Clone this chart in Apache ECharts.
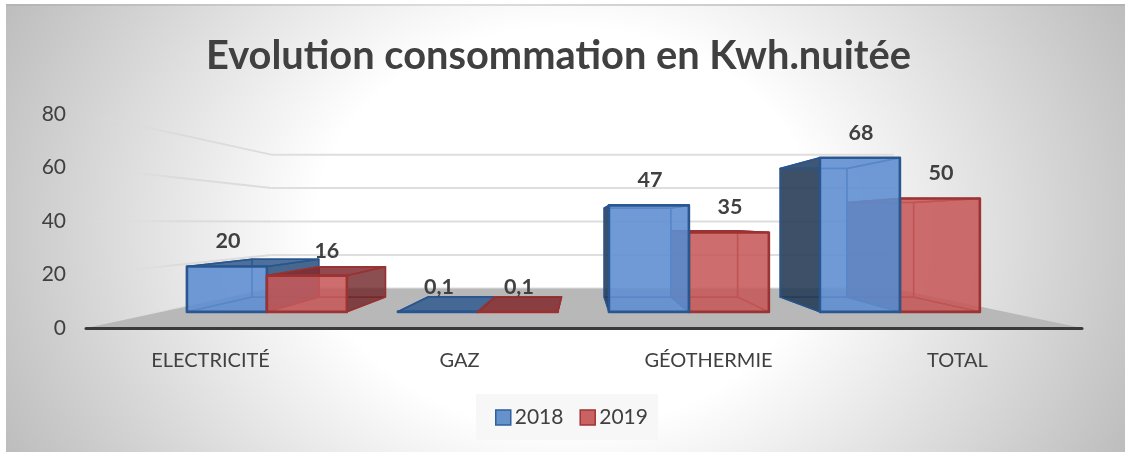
<!DOCTYPE html>
<html><head><meta charset="utf-8">
<style>html,body{margin:0;padding:0;background:#fff}#c{width:1125px;height:452px}</style>
<script src="https://cdn.jsdelivr.net/npm/echarts@6/dist/echarts.min.js"></script>
</head><body><div id="c"></div>
<script>
const categories = ['ELECTRICITÉ', 'GAZ', 'GÉOTHERMIE', 'TOTAL'];
const values2018 = [20, 0.1, 47, 68];
const values2019 = [16, 0.1, 35, 50];
const yTicks = [0, 20, 40, 60, 80];
const seriesNames = ['2018', '2019'];

// camera model of the pseudo-3D plot
const HORIZON_VALUE = 39.5, VANISH_X = 0.496;
const S_FRONT = 0.8474, S_BACK = 0.707, S_WALL = 0.625, BAR_BAND = 0.379;
const TEXT = '#404040', FONT = 'Lato';

const PAL = [
  { stroke:'rgba(40,86,142,.97)', front:'rgba(94,142,208,.88)', outer:'rgba(36,58,84,.88)', sideOuterLow:'rgba(48,84,128,.88)',
    top:'rgba(52,92,142,.86)', inner:'rgba(70,120,190,.12)' },
  { stroke:'rgba(155,50,50,.97)', front:'rgba(198,88,88,.86)', outer:'rgba(110,36,38,.78)', sideOuterLow:'rgba(110,36,38,.78)',
    top:'rgba(128,42,46,.84)', inner:'rgba(190,70,70,.12)' }
];
const fmt = v => String(v).replace('.', ',');

function camera(params, api) {
  const cs = params.coordSys;
  const vx = cs.x + cs.width * VANISH_X;
  const vy = api.coord([0, HORIZON_VALUE])[1];
  return (X, Y, s) => [vx + s * (X - vx), vy + s * (Y - vy)];
}

function renderBar(idx, labelNudge) {
  return function (params, api) {
    const P = camera(params, api), cs = params.coordSys, pal = PAL[idx];
    const cat = api.value(0), v = api.value(1);
    const [cx, yTop] = api.coord([cat, v]);
    const y0 = api.coord([cat, 0])[1];
    const bw = api.size([1, 0])[0] * BAR_BAND;
    const xL = idx === 0 ? cx - bw : cx, xR = xL + bw;
    const vx = cs.x + cs.width * VANISH_X;
    const onLeft = cx < vx;
    const base = ((onLeft ? idx === 1 : idx === 0) ? 100 : 50) + cat * 10;
    const poly = (pts, fill, z, lw) => ({ type:'polygon', z2: base + z, shape:{ points:pts },
      style:{ fill, stroke: pal.stroke, lineWidth: lw, lineJoin:'round' } });
    const fbl = P(xL,y0,S_FRONT), fbr = P(xR,y0,S_FRONT), ftl = P(xL,yTop,S_FRONT), ftr = P(xR,yTop,S_FRONT);
    const bbl = P(xL,y0,S_BACK), bbr = P(xR,y0,S_BACK), btl = P(xL,yTop,S_BACK), btr = P(xR,yTop,S_BACK);
    const seenFromAbove = btl[1] < ftl[1];
    const children = [
      poly([bbl,bbr,fbr,fbl], pal.inner, 0, 1.2),
      poly([bbl,bbr,btr,btl], pal.inner, 1, 1.2),
      poly([bbl,fbl,ftl,btl], onLeft ? pal.inner : pal.outer, 2, 1.5),
      poly([bbr,fbr,ftr,btr], onLeft ? pal.sideOuterLow : pal.inner, 3, 1.5),
      poly([btl,btr,ftr,ftl], seenFromAbove ? pal.top : pal.inner, 4, 1.5),
      poly([fbl,fbr,ftr,ftl], pal.front, 5, 2.6),
      { type:'text', z2: 1000, style:{
          text: fmt(v), x: (fbl[0]+fbr[0])/2 + 1 + (labelNudge[cat]||0), y: ftl[1] - 25,
          fill: TEXT, font: 'bold 21.5px ' + FONT, align:'center', verticalAlign:'middle' } }
    ];
    return { type:'group', children };
  };
}

function renderFloor(params, api) {
  const P = camera(params, api), cs = params.coordSys;
  const y0 = api.coord([0, 0])[1], xa = cs.x, xb = cs.x + cs.width;
  return { type:'polygon', z2:-10, shape:{ points:[ P(xa,y0,1), P(xb,y0,1), P(xb,y0,S_WALL), P(xa,y0,S_WALL) ] },
    style:{ fill:'#b8b8b8' } };
}

function renderGrid(params, api) {
  const P = camera(params, api), cs = params.coordSys;
  const y = api.coord([0, api.value(0)])[1], xa = cs.x, xb = cs.x + cs.width;
  const a = P(xa,y,1), b = P(xa,y,S_WALL), c = P(xb,y,S_WALL);
  return { type:'group', children:[
    { type:'line', z2:-20, shape:{ x1:a[0], y1:a[1], x2:b[0], y2:b[1] },
      style:{ lineWidth:2, stroke:new echarts.graphic.LinearGradient(a[0],0,b[0],0,
        [{offset:0,color:'rgba(226,226,226,0)'},{offset:.5,color:'rgba(214,214,214,.7)'},{offset:1,color:'#dcdcdc'}],true) } },
    { type:'line', z2:-20, shape:{ x1:b[0], y1:b[1], x2:c[0], y2:c[1] }, style:{ lineWidth:2, stroke:'#dedede' } }
  ]};
}

const chart = echarts.init(document.getElementById('c'), null, { renderer:'canvas' });
chart.setOption({
  animation:false,
  backgroundColor:'#fff',
  textStyle:{ fontFamily:FONT },
  graphic:[
    { type:'rect', x:6, y:4, scaleY:.8, silent:true, z:-100, shape:{ x:0, y:0, width:1119, height:560 },
      style:{ fill:new echarts.graphic.RadialGradient(559.5,280,626,
        [{offset:0,color:'#fff'},{offset:.40,color:'#fff'},{offset:1,color:'#bdbdbd'}],true) } },
    { type:'rect', x:6, y:4, silent:true, z:-99, shape:{ x:0,y:0,width:1119,height:2 },
      style:{ fill:new echarts.graphic.LinearGradient(0,0,1,0,
        [{offset:0,color:'#b4b4b4'},{offset:.4,color:'#dddddd'},{offset:1,color:'#b4b4b4'}]) } }
  ],
  title:{ text:'Evolution consommation en Kwh.nuitée', left:201, top:31,
    textStyle:{ fontFamily:FONT, fontWeight:'bold', fontSize:39.8, color:TEXT } },
  legend:{
    left:476, top:394, padding:[13,10,12,19], itemGap:16, itemWidth:15, itemHeight:15,
    backgroundColor:'rgba(246,246,246,.85)',
    textStyle:{ fontFamily:FONT, fontSize:21, color:TEXT, padding:[0,0,0,-1] },
    data:[
      { name:seriesNames[0], icon:'rect', itemStyle:{ color:'#6592cb', borderColor:'#2f5f9c', borderWidth:1.5 } },
      { name:seriesNames[1], icon:'rect', itemStyle:{ color:'#c96363', borderColor:'#a03434', borderWidth:1.5 } }
    ]
  },
  grid:{ left:86, right:43, top:114, bottom:124, containLabel:false },
  xAxis:{ type:'category', data:categories, z:5,
    axisTick:{ show:false }, axisLine:{ lineStyle:{ color:'#3a3a3a', width:3, cap:'round' } },
    axisLabel:{ margin:23, fontSize:20, color:TEXT, fontFamily:FONT }, splitLine:{ show:false } },
  yAxis:{ type:'value', min:0, max:80, interval:20,
    axisLine:{ show:false }, axisTick:{ show:false }, splitLine:{ show:false },
    axisLabel:{ margin:20, fontSize:21, color:TEXT, fontFamily:FONT } },
  series:[
    { type:'custom', name:'grid', coordinateSystem:'cartesian2d', silent:true, renderItem:renderGrid,
      data:yTicks.map(t=>[t]), encode:{ y:0 } },
    { type:'custom', name:'floor', coordinateSystem:'cartesian2d', silent:true, renderItem:renderFloor, data:[[0,0]] },
    { type:'custom', name:seriesNames[0], coordinateSystem:'cartesian2d', renderItem:renderBar(0,{}),
      encode:{ x:0, y:1 }, data:values2018.map((v,i)=>[i,v]) },
    { type:'custom', name:seriesNames[1], coordinateSystem:'cartesian2d', renderItem:renderBar(1,{0:19}),
      encode:{ x:0, y:1 }, data:values2019.map((v,i)=>[i,v]) }
  ]
});
</script></body></html>
